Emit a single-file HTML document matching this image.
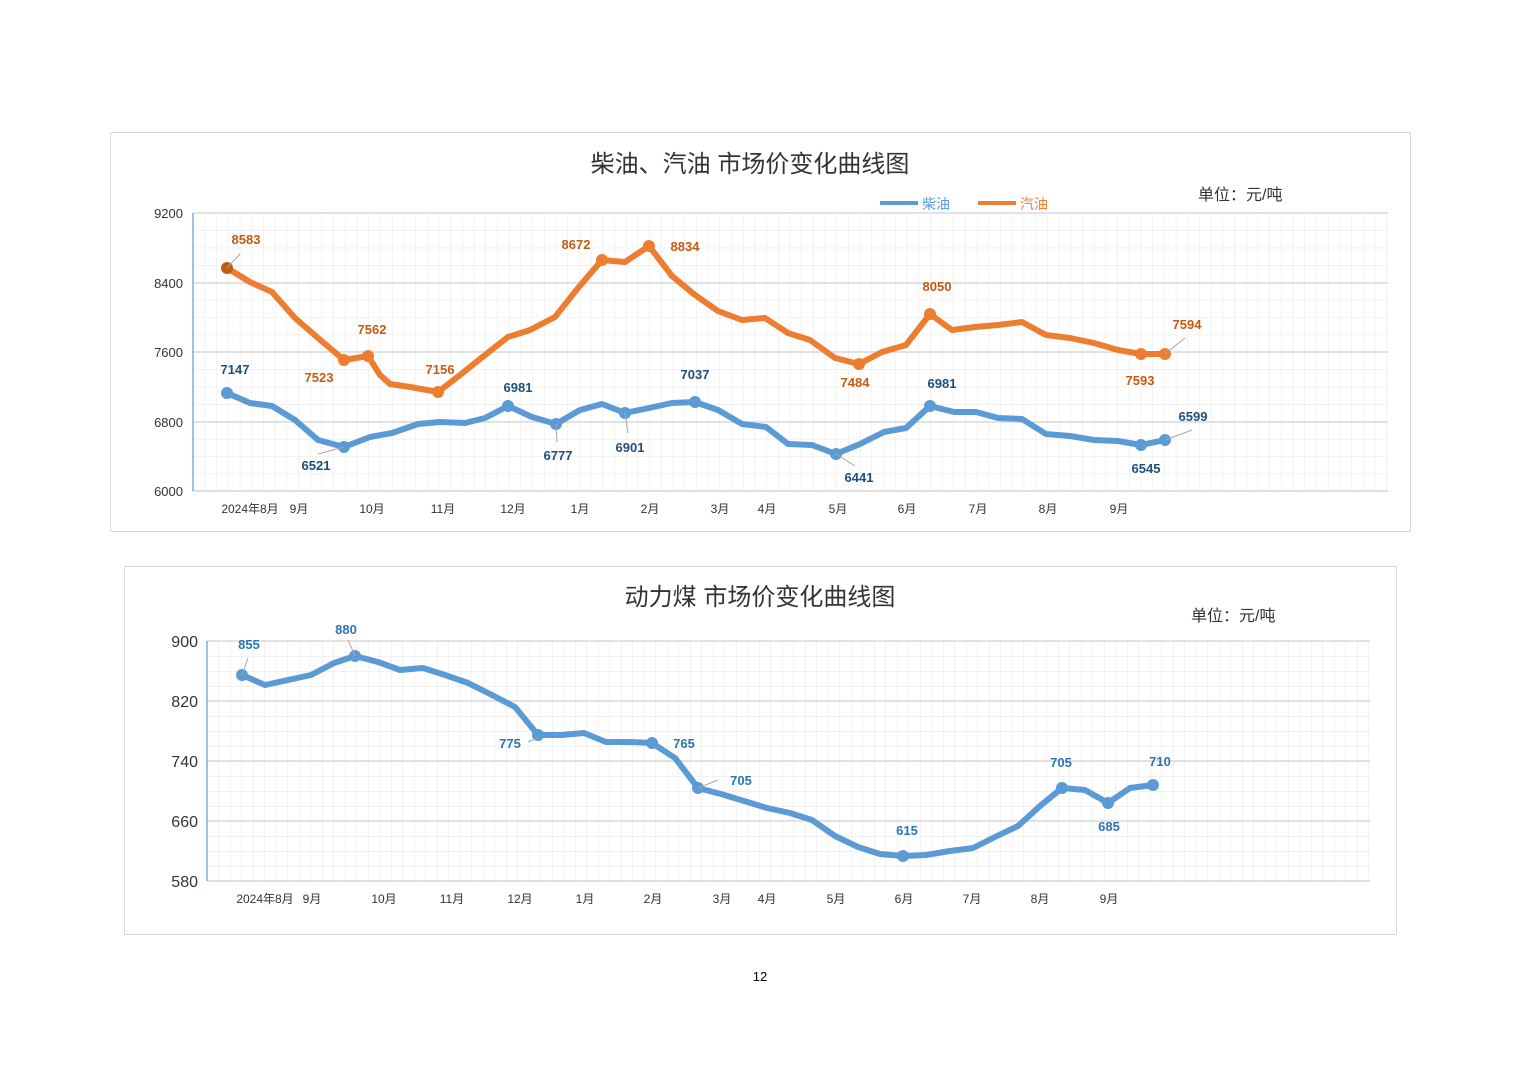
<!DOCTYPE html>
<html><head><meta charset="utf-8">
<style>
html,body{margin:0;padding:0;background:#fff;}
body{width:1520px;height:1074px;position:relative;overflow:hidden;font-family:"Liberation Sans","Noto Sans CJK SC",sans-serif;}
svg text{font-family:"Liberation Sans","Noto Sans CJK SC",sans-serif;}
</style></head><body>
<svg width="1520" height="1074" viewBox="0 0 1520 1074" xmlns="http://www.w3.org/2000/svg">
<defs>
<pattern id="g1" x="193" y="213" width="11.7" height="17.375" patternUnits="userSpaceOnUse">
<path d="M0 0V17.375M0 0H11.7" stroke="#e6e6e6" stroke-width="1" fill="none"/></pattern>
<pattern id="g2" x="207" y="641" width="11.5" height="15" patternUnits="userSpaceOnUse">
<path d="M0 0V15M0 0H11.5" stroke="#e6e6e6" stroke-width="1" fill="none"/></pattern>
</defs>
<!-- chart 1 -->
<rect x="110.5" y="132.5" width="1300" height="399" fill="#fff" stroke="#d9d9d9"/>
<text x="750" y="172" font-size="24" text-anchor="middle" fill="#333">柴油、汽油 市场价变化曲线图</text>
<line x1="880" y1="203" x2="918" y2="203" stroke="#5b9bd5" stroke-width="4"/>
<text x="922" y="209" font-size="14" fill="#5b9bd5">柴油</text>
<line x1="978" y1="203" x2="1016" y2="203" stroke="#ed7d31" stroke-width="4"/>
<text x="1020" y="209" font-size="14" fill="#ed7d31">汽油</text>
<text x="1198" y="200" font-size="16" fill="#333" font-family="Liberation Serif,Noto Serif CJK SC,serif">单位：元/吨</text>
<rect x="193" y="213" width="1195" height="278" fill="url(#g1)"/>
<g stroke="#d9d9d9" stroke-width="1.5"><line x1="193" y1="213" x2="1388" y2="213"/><line x1="193" y1="283" x2="1388" y2="283"/><line x1="193" y1="352" x2="1388" y2="352"/><line x1="193" y1="422" x2="1388" y2="422"/></g>
<line x1="193" y1="213" x2="193" y2="491" stroke="#5b9bd5" stroke-width="1.2"/>
<line x1="193" y1="491" x2="1388" y2="491" stroke="#bfbfbf" stroke-width="1"/>
<g font-size="13" fill="#333" text-anchor="end"><text x="183" y="218">9200</text><text x="183" y="288">8400</text><text x="183" y="357">7600</text><text x="183" y="427">6800</text><text x="183" y="496">6000</text></g>
<g font-size="12" fill="#333" text-anchor="middle"><text x="250" y="513">2024年8月</text><text x="299" y="513">9月</text><text x="372" y="513">10月</text><text x="443" y="513">11月</text><text x="513" y="513">12月</text><text x="580" y="513">1月</text><text x="650" y="513">2月</text><text x="720" y="513">3月</text><text x="767" y="513">4月</text><text x="838" y="513">5月</text><text x="907" y="513">6月</text><text x="978" y="513">7月</text><text x="1048" y="513">8月</text><text x="1119" y="513">9月</text></g>
<polyline fill="none" stroke="#ed7d31" stroke-width="6" stroke-linejoin="round" stroke-linecap="round" points="227,268 250,282 272,292 295,318 318,338 344,360 356,358 368,356 380,375 390,384 410,387 438,392 460,375 485,355 508,337 530,330 555,317 578,288 602,260 625,262 649,246 672,276 695,295 718,311 742,320 765,318 788,333 810,340 835,358 859,364 882,352 906,345 930,314 952,330 975,327 998,325 1022,322 1046,335 1070,338 1094,343 1118,350 1141,354 1165,354"/>
<polyline fill="none" stroke="#5b9bd5" stroke-width="6" stroke-linejoin="round" stroke-linecap="round" points="227,393 250,403 272,406 295,420 318,440 344,447 370,437 392,433 418,424 440,422 465,423 485,418 508,406 532,417 556,424 580,410 602,404 625,413 649,408 672,403 695,402 718,410 742,424 766,427 788,444 812,445 836,454 860,444 884,432 906,428 930,406 954,412 976,412 998,418 1022,419 1046,434 1070,436 1094,440 1118,441 1141,445 1165,440"/>
<g fill="#ed7d31"><circle cx="227" cy="268" r="6" fill="#c55a11"/><circle cx="344" cy="360" r="6"/><circle cx="368" cy="356" r="6"/><circle cx="438" cy="392" r="6"/><circle cx="602" cy="260" r="6"/><circle cx="649" cy="246" r="6"/><circle cx="859" cy="364" r="6"/><circle cx="930" cy="314" r="6"/><circle cx="1141" cy="354" r="6"/><circle cx="1165" cy="354" r="6"/></g>
<g fill="#5b9bd5"><circle cx="227" cy="393" r="6"/><circle cx="344" cy="447" r="6"/><circle cx="508" cy="406" r="6"/><circle cx="556" cy="424" r="6"/><circle cx="625" cy="413" r="6"/><circle cx="695" cy="402" r="6"/><circle cx="836" cy="454" r="6"/><circle cx="930" cy="406" r="6"/><circle cx="1141" cy="445" r="6"/><circle cx="1165" cy="440" r="6"/></g>
<g stroke="#a6a6a6" stroke-width="1"><line x1="227" y1="268" x2="240" y2="254"/><line x1="1165" y1="354" x2="1185" y2="338"/><line x1="1165" y1="440" x2="1192" y2="430"/><line x1="836" y1="454" x2="855" y2="466"/><line x1="556" y1="424" x2="557" y2="442"/><line x1="625" y1="413" x2="628" y2="433"/><line x1="344" y1="447" x2="318" y2="454"/></g>
<g font-size="13" font-weight="bold" fill="#c55a11" text-anchor="middle"><text x="246" y="244">8583</text><text x="319" y="382">7523</text><text x="372" y="334">7562</text><text x="440" y="374">7156</text><text x="576" y="249">8672</text><text x="685" y="251">8834</text><text x="855" y="387">7484</text><text x="937" y="291">8050</text><text x="1140" y="385">7593</text><text x="1187" y="329">7594</text></g>
<g font-size="13" font-weight="bold" fill="#1f4e79" text-anchor="middle"><text x="235" y="374">7147</text><text x="316" y="470">6521</text><text x="518" y="392">6981</text><text x="558" y="460">6777</text><text x="630" y="452">6901</text><text x="695" y="379">7037</text><text x="859" y="482">6441</text><text x="942" y="388">6981</text><text x="1146" y="473">6545</text><text x="1193" y="421">6599</text></g>

<!-- chart 2 -->
<rect x="124.5" y="566.5" width="1272" height="368" fill="#fff" stroke="#d9d9d9"/>
<text x="760" y="605" font-size="24" text-anchor="middle" fill="#333">动力煤 市场价变化曲线图</text>
<text x="1191" y="621" font-size="16" fill="#333" font-family="Liberation Serif,Noto Serif CJK SC,serif">单位：元/吨</text>
<rect x="207" y="641" width="1163" height="240" fill="url(#g2)"/>
<g stroke="#d9d9d9" stroke-width="1.5"><line x1="207" y1="641" x2="1370" y2="641"/><line x1="207" y1="701" x2="1370" y2="701"/><line x1="207" y1="761" x2="1370" y2="761"/><line x1="207" y1="821" x2="1370" y2="821"/></g>
<line x1="207" y1="641" x2="207" y2="881" stroke="#5b9bd5" stroke-width="1.2"/>
<line x1="207" y1="881" x2="1370" y2="881" stroke="#bfbfbf" stroke-width="1"/>
<g font-size="16" fill="#333" text-anchor="end"><text x="198" y="647">900</text><text x="198" y="707">820</text><text x="198" y="767">740</text><text x="198" y="827">660</text><text x="198" y="887">580</text></g>
<g font-size="12" fill="#333" text-anchor="middle"><text x="265" y="903">2024年8月</text><text x="312" y="903">9月</text><text x="384" y="903">10月</text><text x="452" y="903">11月</text><text x="520" y="903">12月</text><text x="585" y="903">1月</text><text x="653" y="903">2月</text><text x="722" y="903">3月</text><text x="767" y="903">4月</text><text x="836" y="903">5月</text><text x="904" y="903">6月</text><text x="972" y="903">7月</text><text x="1040" y="903">8月</text><text x="1109" y="903">9月</text></g>
<polyline fill="none" stroke="#5b9bd5" stroke-width="6" stroke-linejoin="round" stroke-linecap="round" points="242,675 265,685 288,680 311,675 334,663 355,656 378,662 400,670 423,668 445,675 468,683 490,694 515,707 538,735 562,735 584,733 606,742 629,742 652,743 675,758 698,788 721,794 744,801 767,808 790,813 812,820 835,836 858,847 880,854 903,856 926,855 950,851 973,848 995,837 1018,826 1040,806 1062,788 1085,790 1108,803 1130,788 1153,785"/>
<g fill="#5b9bd5"><circle cx="242" cy="675" r="6"/><circle cx="355" cy="656" r="6"/><circle cx="538" cy="735" r="6"/><circle cx="652" cy="743" r="6"/><circle cx="698" cy="788" r="6"/><circle cx="903" cy="856" r="6"/><circle cx="1062" cy="788" r="6"/><circle cx="1108" cy="803" r="6"/><circle cx="1153" cy="785" r="6"/></g>
<g stroke="#a6a6a6" stroke-width="1"><line x1="242" y1="675" x2="248" y2="658"/><line x1="355" y1="656" x2="348" y2="640"/><line x1="538" y1="738" x2="528" y2="742"/><line x1="698" y1="788" x2="718" y2="780"/></g>
<g font-size="13" font-weight="bold" fill="#2e75b6" text-anchor="middle"><text x="249" y="649">855</text><text x="346" y="634">880</text><text x="510" y="748">775</text><text x="684" y="748">765</text><text x="741" y="785">705</text><text x="907" y="835">615</text><text x="1061" y="767">705</text><text x="1109" y="831">685</text><text x="1160" y="766">710</text></g>

<text x="760" y="981" font-size="13" text-anchor="middle" fill="#000">12</text>
</svg>
</body></html>
